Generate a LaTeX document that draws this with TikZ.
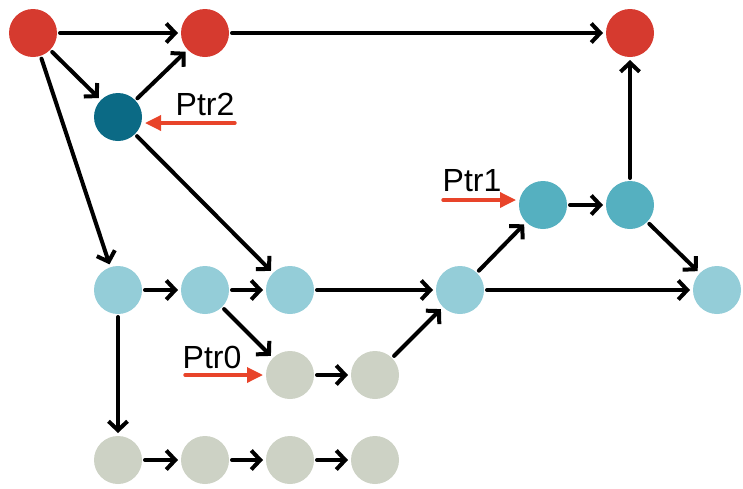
\documentclass[tikz,border=0pt]{standalone}
\usepackage{fontspec}
\setmainfont{Liberation Sans}
\usetikzlibrary{arrows.meta}

\definecolor{nodered}{HTML}{D63A2F}
\definecolor{nodedark}{HTML}{0B6A85}
\definecolor{nodemid}{HTML}{55B0C0}
\definecolor{nodelight}{HTML}{94CDD8}
\definecolor{nodegray}{HTML}{CDD2C5}
\definecolor{ptrred}{HTML}{E8442A}

\begin{document}
\begin{tikzpicture}[x=1pt,y=-1pt,line cap=round,line join=round,
  vtx/.style={circle,minimum size=48pt,inner sep=0pt,outer sep=3pt},
  link/.style={-{Straight Barb[length=9pt,width=19pt,line width=4pt]},line width=4pt},
  ptr/.style={-{Triangle[length=16pt,width=15pt]},line width=3.4pt,ptrred},
  ptrtext/.style={font=\fontsize{32}{34}\selectfont,inner sep=1pt}]
  \useasboundingbox (0,0) rectangle (743,488);
  % red row
  \node[vtx,fill=nodered] (r1) at (33,33) {};
  \node[vtx,fill=nodered] (r2) at (205,33) {};
  \node[vtx,fill=nodered] (r3) at (630,33) {};
  \node[vtx,fill=nodedark] (dk) at (118,117) {};
  % teal pair
  \node[vtx,fill=nodemid] (t1) at (543,205) {};
  \node[vtx,fill=nodemid] (t2) at (630,205) {};
  % light row
  \node[vtx,fill=nodelight] (l1) at (118,290) {};
  \node[vtx,fill=nodelight] (l2) at (205,290) {};
  \node[vtx,fill=nodelight] (l3) at (290,290) {};
  \node[vtx,fill=nodelight] (l4) at (460,290) {};
  \node[vtx,fill=nodelight] (l5) at (717,290) {};
  % gray nodes
  \node[vtx,fill=nodegray] (g1) at (290,375) {};
  \node[vtx,fill=nodegray] (g2) at (375,375) {};
  \node[vtx,fill=nodegray] (g3) at (118,460) {};
  \node[vtx,fill=nodegray] (g4) at (205,460) {};
  \node[vtx,fill=nodegray] (g5) at (290,460) {};
  \node[vtx,fill=nodegray] (g6) at (375,460) {};
  % links
  \draw[link] (r1) -- (r2);
  \draw[link] (r1) -- (dk);
  \draw[link] (r1) -- (l1);
  \draw[link] (dk) -- (r2);
  \draw[link] (r2) -- (r3);
  \draw[link] (dk) -- (l3);
  \draw[link] (l1) -- (l2);
  \draw[link] (l2) -- (l3);
  \draw[link] (l3) -- (l4);
  \draw[link] (l4) -- (t1);
  \draw[link] (t1) -- (t2);
  \draw[link] (t2) -- (r3);
  \draw[link] (t2) -- (l5);
  \draw[link] (l4) -- (l5);
  \draw[link] (l2) -- (g1);
  \draw[link] (g1) -- (g2);
  \draw[link] (g2) -- (l4);
  \draw[link] (l1) -- (g3);
  \draw[link] (g3) -- (g4);
  \draw[link] (g4) -- (g5);
  \draw[link] (g5) -- (g6);
  % pointers
  \node[ptrtext] (p2) at (205,104) {Ptr2};
  \node[ptrtext] (p1) at (472,181) {Ptr1};
  \node[ptrtext] (p0) at (212,357) {Ptr0};
  \coordinate (p2s) at (235,123);
  \coordinate (p1s) at (443,200);
  \coordinate (p0s) at (185,375);
  \draw[ptr] (p2s) -- (p2s -| dk.east);
  \draw[ptr] (p1s) -- (p1s -| t1.west);
  \draw[ptr] (p0s) -- (p0s -| g1.west);
\end{tikzpicture}
\end{document}
